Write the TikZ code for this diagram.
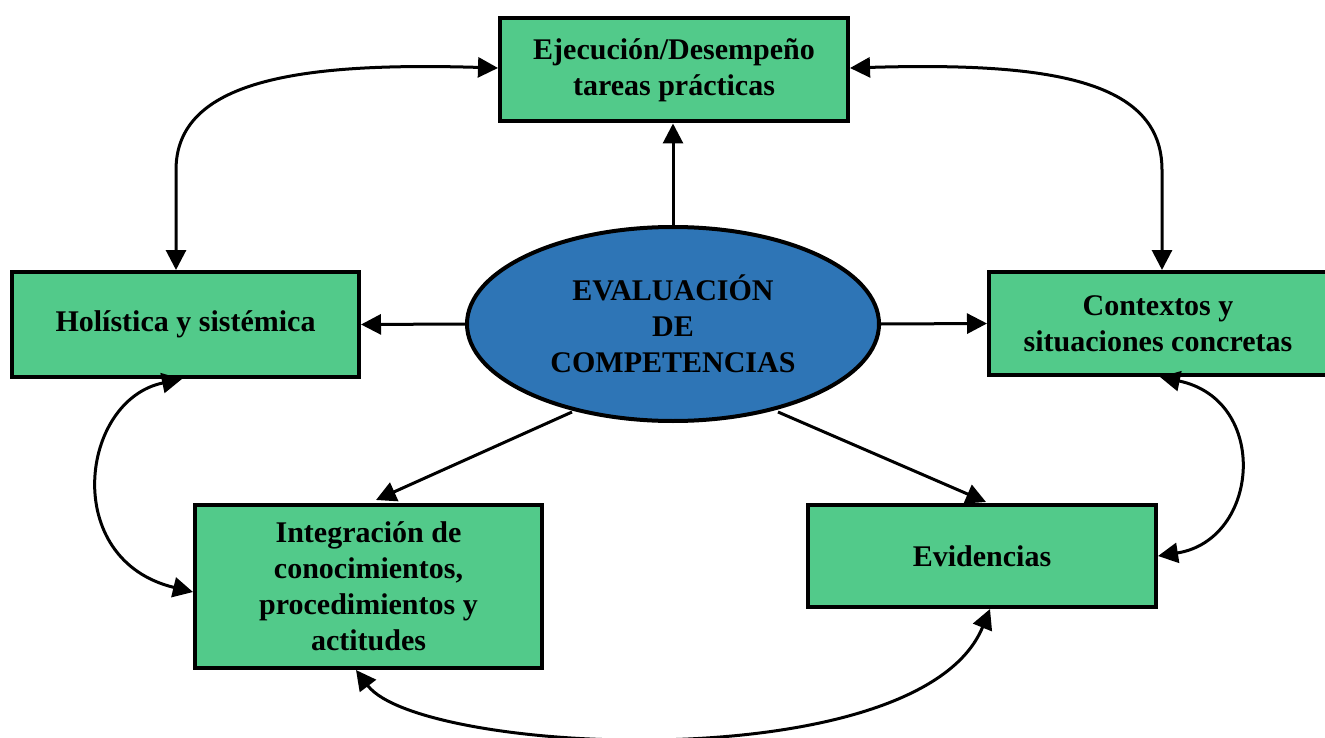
\documentclass[tikz,border=0pt]{standalone}
\usepackage{fontspec}
\setmainfont{Liberation Serif}
\usetikzlibrary{arrows.meta,shapes.geometric}
\definecolor{boxgreen}{HTML}{52CA8A}
\definecolor{ellblue}{HTML}{2E75B6}
\tikzset{
  gbox/.style={draw=black,line width=4pt,fill=boxgreen,minimum width=#1,inner sep=0pt,align=center,font=\fontsize{30}{36}\selectfont\bfseries},
  conn/.style={line width=3pt,-{Triangle[length=20pt,width=20pt]}},
  biconn/.style={line width=3pt,{Triangle[length=20pt,width=20pt]}-{Triangle[length=20pt,width=20pt]}},
}
\begin{document}
\begin{tikzpicture}[x=1pt,y=-1pt]
\useasboundingbox (0,0) rectangle (1325,738);
\node[gbox=348pt,minimum height=103pt] (top) at (674,70) {Ejecución/Desempeño\\tareas prácticas};
\node[gbox=347pt,minimum height=105pt] (hol) at (185.5,324.5) {Holística y sistémica};
\node[gbox=338pt,minimum height=103pt] (ctx) at (1158,323.5) {Contextos y\\situaciones concretas};
\node[gbox=347pt,minimum height=163pt] (int) at (368.5,586.5) {Integración de\\conocimientos,\\procedimientos y\\actitudes};
\node[gbox=348pt,minimum height=102pt] (evi) at (982,556) {Evidencias};
\node[ellipse,draw=black,line width=4pt,fill=ellblue,minimum width=412pt,minimum height=194pt,inner sep=0pt,align=center,font=\fontsize{30}{36}\selectfont\bfseries] (ev) at (673,324) {EVALUACIÓN\\DE\\COMPETENCIAS};
% straight connectors
\draw[conn] (ev.north) -- (ev.north |- top.south);
\draw[conn] (ev.west) -- (hol.east);
\draw[conn] (ev.east) -- (ctx.west);
\coordinate (a1) at (572,412);
\coordinate (a2) at (778,412);
\coordinate (intn) at (376,500);
\coordinate (evin) at (986,502);
\draw[conn] (a1) -- (intn);
\draw[conn] (a2) -- (evin);
% curved connectors
\coordinate (tl) at (top.west |- 0,68);
\coordinate (hn) at (hol.north -| 176,0);
\draw[biconn] (tl) .. controls (300,62) and (176,80) .. (176,170) -- (hn);
\coordinate (tr) at (top.east |- 0,68);
\coordinate (cn) at (ctx.north -| 1162,0);
\draw[biconn] (tr) .. controls (1050,62) and (1162,80) .. (1162,170) -- (cn);
\coordinate (hs) at (hol.south -| 182,0);
\coordinate (iw) at (int.west |- 0,592);
\draw[biconn] (hs) .. controls (80,400) and (60,560) .. (iw);
\coordinate (cs) at (ctx.south -| 1160,0);
\coordinate (ee) at (evi.east |- 0,556);
\draw[biconn] (cs) .. controls (1270,400) and (1260,540) .. (ee);
\coordinate (is) at (int.south -| 356,0);
\coordinate (es) at (evi.south -| 990,0);
\draw[biconn] (is) .. controls (420,755) and (920,780) .. (es);
\end{tikzpicture}
\end{document}
